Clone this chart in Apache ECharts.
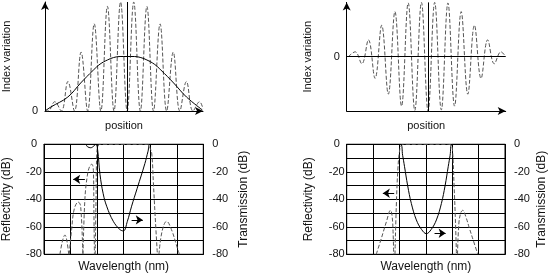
<!DOCTYPE html>
<html>
<head>
<meta charset="utf-8">
<script src="https://cdn.jsdelivr.net/npm/echarts@6/dist/echarts.min.js"></script>
<style>
html, body { margin: 0; padding: 0; background: #fff; }
#main { width: 549px; height: 274px; }
</style>
</head>
<body>
<div id="main"></div>
<script>
// top left: index modulation (dashed) and its apodization envelope (solid)
var tlIndex = [
	[0, 0], [0.24, 0], [0.74, 0.085], [1.24, 0], [1.74, 0.27], [2.24, 0], [2.74, 0.54],
	[3.24, 0], [3.74, 0.8], [4.24, 0], [4.74, 0.96], [5.24, 0], [5.74, 1], [6.24, 0],
	[6.74, 1], [7.24, 0], [7.74, 0.96], [8.24, 0], [8.74, 0.8], [9.24, 0], [9.74, 0.54],
	[10.24, 0], [10.74, 0.27], [11.24, 0], [11.74, 0.085], [12, 0.02]
];
var tlEnvelope = [
	[0, 0], [0.45, 0.037], [1.73, 0.128], [2.71, 0.257], [3.68, 0.376], [4.18, 0.43],
	[4.74, 0.468], [5.2, 0.49], [5.7, 0.5], [6.78, 0.5], [7.28, 0.49], [7.74, 0.468],
	[8.3, 0.43], [8.8, 0.376], [9.77, 0.257], [10.75, 0.128], [11.95, 0.01]
];
var tlCenter = 6.24;

// top right: sinc-like modulated index around zero
var trIndex = [
	[0.12, 0], [0.64, 0.09], [1.14, -0.13], [1.64, 0.31], [2.14, -0.4], [2.64, 0.58],
	[3.14, -0.69], [3.64, 0.83], [4.14, -0.91], [4.64, 0.99], [5.14, -0.99], [5.64, 1],
	[6.14, -1], [6.64, 1], [7.14, -0.98], [7.64, 0.99], [8.14, -0.91], [8.64, 0.83],
	[9.14, -0.69], [9.64, 0.58], [10.14, -0.4], [10.64, 0.31], [11.14, -0.13],
	[11.64, 0.09], [12, 0]
];
var trCenter = 6.14;

// bottom left: reflectivity (dashed, left axis) / transmission (solid, right axis)
var blRefl = [
	[0.6, -80], [0.7, -70], [0.79, -66], [0.86, -70], [0.93, -80], [0.94, '-'],
	[0.95, -80], [1.04, -62], [1.14, -47], [1.29, -42], [1.38, -45], [1.46, -80], [1.465, '-'],
	[1.47, -80], [1.54, -40], [1.63, -23], [1.72, -16], [1.8, -14.5], [1.86, -19], [1.88, -50], [1.9, -80], [1.91, '-'],
	[1.93, -80], [1.96, -40], [1.99, -6], [2.05, -0.5], [2.12, 0], [3.9, 0], [4.0, -3],
	[4.06, -7], [4.12, -28], [4.18, -50], [4.27, -80], [4.3, '-'],
	[4.33, -80], [4.45, -63], [4.62, -56], [4.8, -62], [5.0, -74], [5.1, -80]
];
var blTrans = [
	[0, 0], [1.55, 0], [1.64, -1.8], [1.76, -2.5], [1.88, -1.2], [1.96, 0], [2.02, -4],
	[2.11, -22], [2.23, -36], [2.36, -45], [2.61, -56], [2.86, -62], [2.99, -63],
	[3.14, -56], [3.3, -45], [3.51, -32], [3.8, -14], [3.92, -5], [4.0, 0], [6, 0]
];
var blArrows = [
	[[1.54, -25.5], [1.1, -25.5]],
	[[3.3, -55], [3.72, -55]]
];

// bottom right
var brRefl = [
	[1.12, -80], [1.32, -68], [1.51, -56], [1.66, -48], [1.72, -52], [1.76, -65], [1.78, -80], [1.8, '-'],
	[1.83, -80], [1.88, -45], [1.94, -18], [2.01, -4], [2.08, -0.5], [2.18, 0], [3.86, 0],
	[3.96, -0.5], [4.01, -4], [4.07, -30], [4.12, -55], [4.16, -80], [4.18, '-'],
	[4.2, -80], [4.25, -58], [4.32, -50], [4.4, -48], [4.52, -53], [4.65, -61], [4.8, -70], [4.97, -80]
];
var brTrans = [
	[0, 0], [2.04, 0], [2.12, -8], [2.19, -16], [2.31, -30], [2.45, -43], [2.64, -55],
	[2.84, -62], [3.02, -65], [3.2, -62], [3.4, -55], [3.59, -43], [3.73, -30],
	[3.85, -16], [3.92, -8], [3.99, 0], [6, 0]
];
var brArrows = [
	[[1.8, -35.6], [1.37, -35.6]],
	[[3.33, -64.7], [3.75, -64.7]]
];

var dbTicks = [0, -20, -40, -60, -80];

var FONT = 'Liberation Sans, Arial, sans-serif',
	DASH = [4, 2],
	dashStyle = { color: '#555', width: 1, type: DASH },
	solidStyle = { color: '#000', width: 1 };

function arrowLines(list)
{
	return list.map(function (a) {
		return [{ coord: a[0] }, { coord: a[1] }];
	});
}

function vline(x, y0, y1)
{
	return [[{ coord: [x, y0] }, { coord: [x, y1] }]];
}

function topXAxis(gi)
{
	return {
		gridIndex: gi, type: 'value', min: 0, max: 12,
		axisLine: { onZero: false, lineStyle: { color: '#000', width: 1 }, symbol: ['none', 'arrow'], symbolSize: [6, 8] },
		axisTick: { show: false }, axisLabel: { show: false }, splitLine: { show: false },
		name: 'position', nameLocation: 'middle', nameGap: 9,
		nameTextStyle: { fontFamily: FONT, fontSize: 11, color: '#111' }
	};
}

function topYAxis(gi, min, max, gap)
{
	return {
		gridIndex: gi, type: 'value', min: min, max: max, interval: 1,
		axisLine: { onZero: false, lineStyle: { color: '#000', width: 1 }, symbol: ['none', 'arrow'], symbolSize: [6, 8] },
		axisTick: { show: false }, splitLine: { show: false },
		axisLabel: {
			margin: 10, align: 'center', fontFamily: FONT, fontSize: 11, color: '#111',
			formatter: function (v) { return v === 0 ? '0' : ''; }
		},
		name: 'Index variation', nameLocation: 'middle', nameGap: gap,
		nameTextStyle: { fontFamily: FONT, fontSize: 11, color: '#111' }
	};
}

function botXAxis(gi)
{
	return {
		gridIndex: gi, type: 'value', min: 0, max: 6, interval: 1,
		axisLine: { lineStyle: { color: '#000', width: 1 } },
		axisTick: { show: false }, axisLabel: { show: false },
		splitLine: { show: true, lineStyle: { color: '#000', width: 1 } },
		name: 'Wavelength (nm)', nameLocation: 'middle', nameGap: 6,
		nameTextStyle: { fontFamily: FONT, fontSize: 12, color: '#111' }
	};
}

function botYAxis(gi, side, name, gap)
{
	var left = side == 'left';
	return {
		gridIndex: gi, type: 'value', position: side, min: -80, max: 0, interval: 10,
		axisLine: { show: true, lineStyle: { color: '#000', width: 1 } },
		axisTick: { show: false },
		splitLine: { show: left, lineStyle: { color: '#000', width: 1 } },
		axisLabel: {
			margin: left ? 10 : 9, align: left ? 'center' : 'left',
			fontFamily: FONT, fontSize: 11, color: '#111',
			formatter: function (v) { return dbTicks.indexOf(v) > -1 ? String(v) : ''; }
		},
		name: name, nameLocation: 'middle', nameGap: gap,
		nameTextStyle: { fontFamily: FONT, fontSize: 12, color: '#111' }
	};
}

function lineSeries(xi, yi, data, style, extra)
{
	var s = {
		type: 'line', xAxisIndex: xi, yAxisIndex: yi, data: data,
		showSymbol: false, symbol: 'none', smooth: 0.4, connectNulls: false,
		lineStyle: style, silent: true, animation: false, z: 3
	};
	if (extra)
	{
		for (var k in extra) s[k] = extra[k];
	}
	return s;
}

function markLines(data, withArrow)
{
	return {
		silent: true, animation: false,
		symbol: withArrow ? ['none', 'arrow'] : ['none', 'none'],
		symbolSize: 7,
		label: { show: false },
		lineStyle: { color: '#000', width: 1, type: 'solid' },
		emphasis: { disabled: true },
		data: data
	};
}

var chart = echarts.init(document.getElementById('main'), null, { renderer: 'canvas' });

var option = {
	animation: false,
	backgroundColor: '#fff',
	grid: [
		{ left: 44, top: 2, width: 159, height: 109 },
		{ left: 346.7, top: 2.4, width: 159, height: 108.6 },
		{ left: 44, top: 144.3, width: 159.3, height: 110, show: true, borderColor: '#000', borderWidth: 1 },
		{ left: 346.7, top: 144.3, width: 159, height: 110, show: true, borderColor: '#000', borderWidth: 1 }
	],
	xAxis: [topXAxis(0), topXAxis(1), botXAxis(2), botXAxis(3)],
	yAxis: [
		topYAxis(0, 0, 1, 33),
		topYAxis(1, -1, 1, 33),
		botYAxis(2, 'left', 'Reflectivity (dB)', 31),
		botYAxis(2, 'right', 'Transmission (dB)', 34),
		botYAxis(3, 'left', 'Reflectivity (dB)', 32),
		botYAxis(3, 'right', 'Transmission (dB)', 31)
	],
	series: [
		lineSeries(0, 0, tlIndex, dashStyle),
		lineSeries(0, 0, tlEnvelope, solidStyle, { markLine: markLines(vline(tlCenter, 0, 1), false) }),
		lineSeries(1, 1, trIndex, dashStyle, {
			markLine: markLines([[{ coord: [0, 0] }, { coord: [12, 0] }]].concat(vline(trCenter, -1, 1)), false)
		}),
		lineSeries(2, 2, blRefl, dashStyle, { markLine: markLines(arrowLines(blArrows), true) }),
		lineSeries(2, 3, blTrans, solidStyle),
		lineSeries(3, 4, brRefl, dashStyle, { markLine: markLines(arrowLines(brArrows), true) }),
		lineSeries(3, 5, brTrans, solidStyle)
	]
};

chart.setOption(option);
</script>
</body>
</html>
